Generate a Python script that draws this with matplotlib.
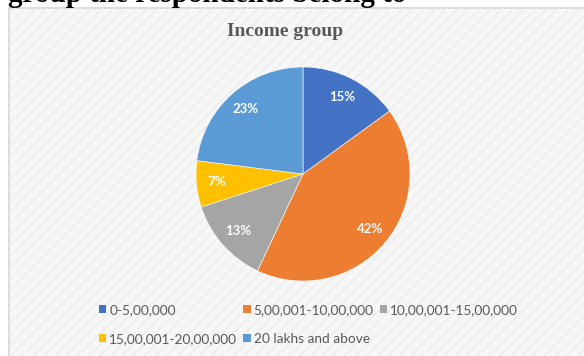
import matplotlib.pyplot as plt
from matplotlib.patches import Rectangle, Patch

# data
labels = ["0-5,00,000", "5,00,001-10,00,000", "10,00,001-15,00,000",
          "15,00,001-20,00,000", "20 lakhs and above"]
shares = [15, 42, 13, 7, 23]
colors = ["#4472C4", "#ED7D31", "#A5A5A5", "#FFC000", "#5B9BD5"]
title = "Income group"
heading = "group the respondents belong to"

W, H = 584, 356
fig = plt.figure(figsize=(W / 100, H / 100), dpi=100)
fig.patch.set_facecolor("white")

# chart area box (light background with faint diagonal stripes)
box = Rectangle((9 / W, -0.1), 1.2, 1.1 - 8 / H, transform=fig.transFigure,
                facecolor="#f7f7f7", edgecolor="#d6d6d6", lw=1.2, zorder=-2)
stripes = Rectangle((9 / W, -0.1), 1.2, 1.1 - 8 / H, transform=fig.transFigure,
                    facecolor="none", edgecolor="#ececec", lw=0, hatch="///", zorder=-1)
fig.patches.extend([box, stripes])

# clipped heading from the surrounding document
fig.text(8 / W, 1 - 1.5 / H, heading, ha="left", va="baseline",
         fontsize=21, fontweight="bold", family="Liberation Serif", color="black")

fig.text(285 / W, 1 - 31 / H, title, ha="center", va="center",
         fontsize=14, fontweight="bold", family="Liberation Serif", color="#595959")

# pie
cx, cy, r = 303, 174, 107
ax = fig.add_axes([(cx - r) / W, (H - cy - r) / H, 2 * r / W, 2 * r / H])
ax.set_zorder(1)
wedges, _, autotexts = ax.pie(shares, colors=colors, startangle=90, counterclock=False,
                              autopct="%d%%", pctdistance=0.81,
                              wedgeprops=dict(edgecolor="white", linewidth=0.4))
for t in autotexts:
    t.set_color("white")
    t.set_fontweight("bold")
    t.set_fontsize(9.5)
    t.set_family("Lato")
ax.set_xlim(-1, 1)
ax.set_ylim(-1, 1)
ax.axis("off")

# legend (row-major order like the original)
handles = [Patch(facecolor=c, edgecolor="none") for c in colors]
order = [0, 3, 1, 4, 2]
leg = fig.legend([handles[i] for i in order], [labels[i] for i in order],
                 loc="upper left", bbox_to_anchor=(99 / W, 1 - 304 / H),
                 ncol=3, frameon=False,
                 prop={"family": "Lato", "size": 9.8},
                 handlelength=0.55, handleheight=0.55, handletextpad=0.2,
                 columnspacing=0.45, labelspacing=1.25, borderaxespad=0, borderpad=0)
leg.set_zorder(2)
for t in leg.get_texts():
    t.set_color("#595959")

fig.savefig("out.png", dpi=100)
